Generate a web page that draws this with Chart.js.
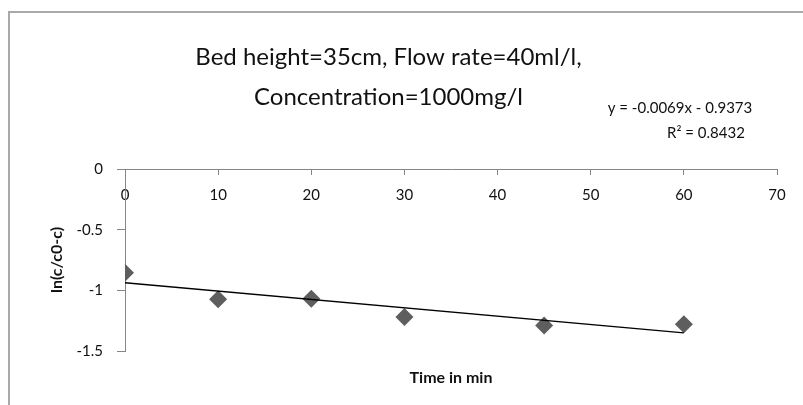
<!DOCTYPE html>
<html>
<head>
<meta charset="utf-8">
<script src="https://cdn.jsdelivr.net/npm/chart.js@4.4.1/dist/chart.umd.min.js"></script>
<style>
    html, body { margin: 0; padding: 0; background: #fff; }
    #wrap { position: relative; width: 803px; height: 405px; overflow: hidden; }
    #frame {
        position: absolute; left: 8px; top: 11px; width: 900px; height: 500px;
        border-left: 2px solid #a9a9a9; border-top: 2px solid #a9a9a9;
    }
    canvas { position: absolute; left: 0; top: 0; }
</style>
</head>
<body>
<div id="wrap">
    <div id="frame"></div>
    <canvas id="chart" width="803" height="405"></canvas>
</div>
<script>
// data
const timeMin = [0, 10, 20, 30, 45, 60];
const lnRatio = [-0.855, -1.074, -1.069, -1.22, -1.29, -1.28];

// trendline endpoints (from the equation shown on the chart)
const trendX = [0, 60];
const trendY = [-0.9373, -1.3513];

const yTickLabels = ['-1.5', '-1', '-0.5', '0'];
const chartTitle = ['Bed height=35cm, Flow rate=40ml/l,', 'Concentration=1000mg/l'];
const eqText = ['y = -0.0069x - 0.9373', 'R\u00B2 = 0.8432'];

const FONT = 'Lato, "Open Sans", sans-serif';
const AXIS = '#868686';
const TEXT = '#111';

const eqLabel = {
    id: 'eqLabel',
    afterDraw(chart) {
        const ctx = chart.ctx;
        ctx.save();
        ctx.font = '15px ' + FONT;
        ctx.fillStyle = TEXT;
        ctx.textAlign = 'center';
        ctx.textBaseline = 'middle';
        ctx.fillText(eqText[0], 680, 108);
        ctx.fillText(eqText[1], 706, 133);
        ctx.restore();
    }
};

new Chart(document.getElementById('chart'), {
    type: 'scatter',
    data: {
        datasets: [
            {
                label: 'trend',
                type: 'line',
                data: trendX.map((x, i) => ({ x: x, y: trendY[i] })),
                borderColor: '#000',
                borderWidth: 1.3,
                pointRadius: 0,
                fill: false,
            },
            {
                label: 'ln(c/c0-c)',
                data: timeMin.map((x, i) => ({ x: x, y: lnRatio[i] })),
                pointStyle: 'rectRot',
                pointRadius: 9,
                backgroundColor: '#5e5e5e',
                borderWidth: 0,
            },
        ],
    },
    options: {
        responsive: false,
        animation: false,
        layout: { padding: { top: 12, left: 0, right: 26, bottom: 0 } },
        plugins: {
            legend: { display: false },
            tooltip: { enabled: false },
            title: {
                display: true,
                text: chartTitle,
                color: TEXT,
                font: { family: FONT, size: 24, weight: 'normal', lineHeight: '40px' },
                padding: { top: 25, bottom: 52 },
            },
        },
        scales: {
            x: {
                type: 'linear',
                position: { y: 0 },
                min: 0,
                max: 70,
                ticks: { stepSize: 10, color: TEXT, padding: 12, font: { family: FONT, size: 15 } },
                grid: { drawOnChartArea: false, drawTicks: true, tickLength: 5, color: AXIS },
                border: { color: AXIS, width: 1 },
            },
            x2: {
                type: 'linear',
                position: 'bottom',
                min: 0,
                max: 70,
                ticks: { display: false },
                grid: { display: false },
                border: { display: false },
                title: {
                    display: true,
                    text: 'Time in min',
                    color: TEXT,
                    font: { family: FONT, size: 16, weight: 'bold' },
                    padding: { top: 0, bottom: 18 },
                },
                afterFit(scale) { scale.height = 54; },
            },
            y: {
                type: 'linear',
                position: 'left',
                min: -1.5,
                max: 0,
                ticks: {
                    stepSize: 0.5,
                    color: TEXT,
                    padding: 14,
                    font: { family: FONT, size: 15 },
                    callback: (v, i) => yTickLabels[i],
                },
                grid: { drawOnChartArea: false, drawTicks: true, tickLength: 8, color: AXIS },
                border: { color: AXIS, width: 1 },
                title: {
                    display: true,
                    text: 'ln(c/c0-c)',
                    color: TEXT,
                    font: { family: FONT, size: 16, weight: 'bold' },
                    padding: { top: 47, bottom: 0 },
                },
                afterFit(scale) { scale.width = 125; },
            },
        },
    },
    plugins: [eqLabel],
});
</script>
</body>
</html>
